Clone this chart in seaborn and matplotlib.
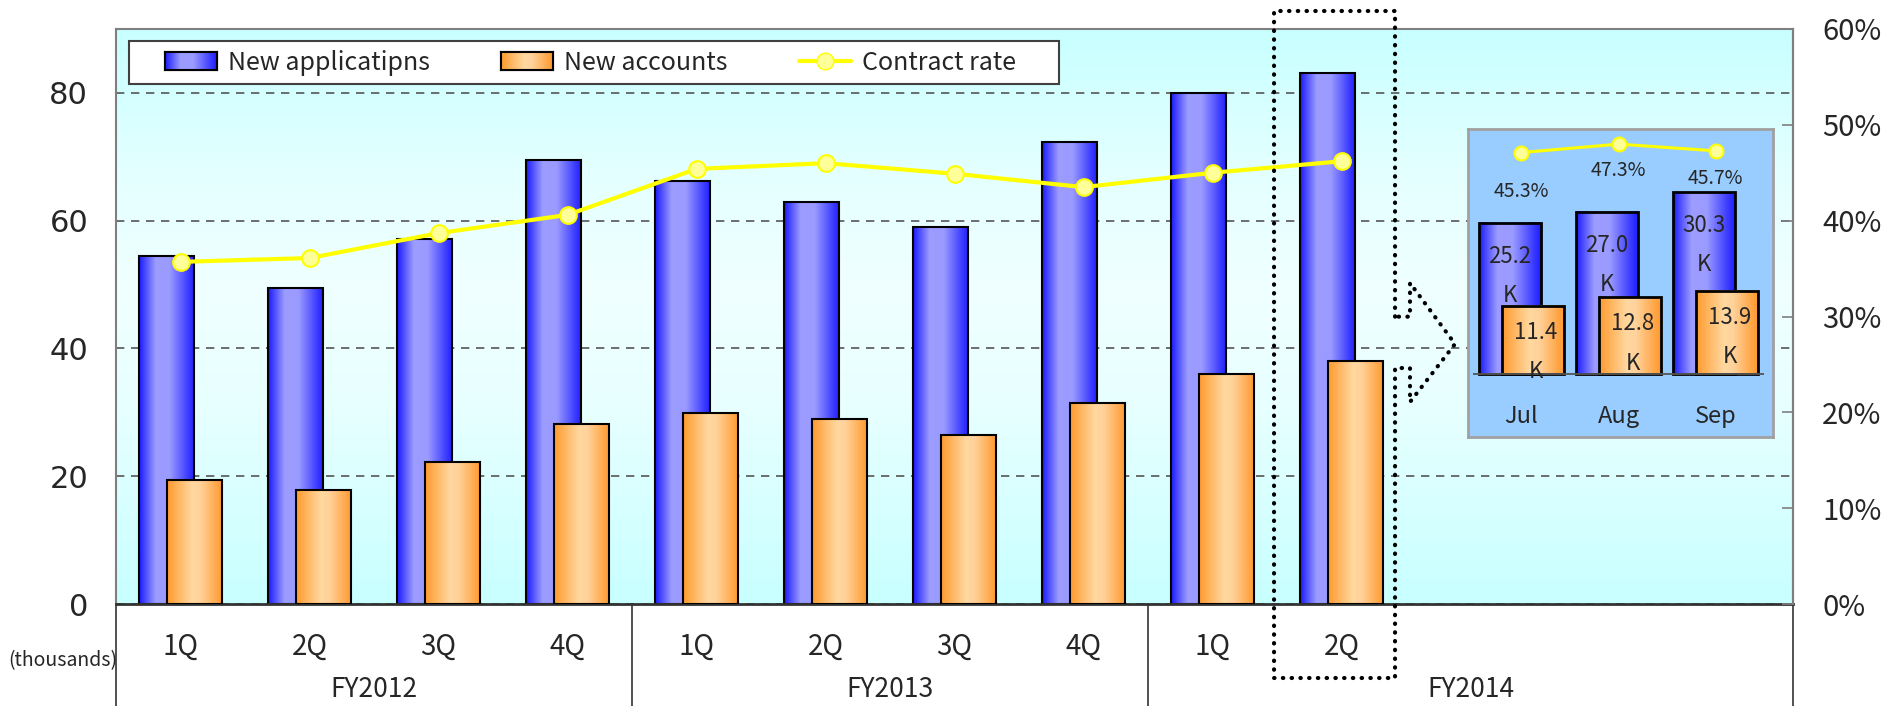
import numpy as np
import pandas as pd
import matplotlib
matplotlib.use("Agg")
import matplotlib.pyplot as plt
import matplotlib.transforms as mtransforms
from matplotlib.colors import LinearSegmentedColormap
from matplotlib.lines import Line2D
from matplotlib.patches import Patch, Rectangle
import seaborn as sns

# ---------------- data ----------------
fiscal_years = ["FY2012", "FY2013", "FY2014"]
fy_slots = [4, 4, 5]                      # FY2014 keeps room for the monthly panel
quarters = ["1Q", "2Q", "3Q", "4Q", "1Q", "2Q", "3Q", "4Q", "1Q", "2Q"]
quarter_fy = ["FY2012"] * 4 + ["FY2013"] * 4 + ["FY2014"] * 2
new_applications = [54.5, 49.5, 57.2, 69.5, 66.2, 63.0, 59.0, 72.3, 80.0, 83.1]
new_accounts = [19.4, 17.9, 22.2, 28.2, 29.9, 29.0, 26.5, 31.4, 36.0, 38.0]
contract_rate = [35.7, 36.1, 38.7, 40.6, 45.4, 46.0, 44.9, 43.5, 45.0, 46.2]

months = ["Jul", "Aug", "Sep"]
month_applications = [25.2, 27.0, 30.3]
month_accounts = [11.4, 12.8, 13.9]
month_rate = [45.3, 47.3, 45.7]

legend_labels = ["New applicatipns", "New accounts", "Contract rate"]

# ---------------- style ----------------
sns.set_style("white")
NARROW = ["Liberation Sans Narrow", "Noto Sans CJK JP", "DejaVu Sans"]
plt.rcParams["font.family"] = NARROW

W, H = 1888, 706
fig = plt.figure(figsize=(W / 100, H / 100), dpi=100, facecolor="white")

blue_cmap = LinearSegmentedColormap.from_list(
    "app", [(0, "#1a1aff"), (0.3, "#9d9dff"), (0.55, "#9a9aff"), (0.88, "#3c3cff"), (1, "#1e1eff")])
orange_cmap = LinearSegmentedColormap.from_list(
    "acc", [(0, "#ff9a2e"), (0.45, "#ffd8a0"), (0.6, "#ffd29a"), (1, "#ff982c")])
bg_cmap = LinearSegmentedColormap.from_list(
    "bg", [(0, "#c8ffff"), (0.35, "#e8ffff"), (0.55, "#f0ffff"), (0.75, "#e4ffff"), (1, "#c8ffff")])
hgrad = np.linspace(0, 1, 256).reshape(1, -1)
vgrad = np.linspace(0, 1, 256).reshape(-1, 1)


def gradient_bars(ax, patches, cmap, z):
    for p in patches:
        x0, y0, w, h = p.get_x(), p.get_y(), p.get_width(), p.get_height()
        ax.imshow(hgrad, extent=[x0, x0 + w, y0, y0 + h], cmap=cmap,
                  aspect="auto", zorder=z - 0.05, interpolation="bilinear")
        p.set_facecolor("none")
        p.set_zorder(z)


def paired_bars(ax, data, key, v1, v2, width, shift, lw):
    n0 = len(ax.patches)
    sns.barplot(data=data, x=key, y=v1, width=width, ax=ax, color="#6666ff",
                edgecolor="black", linewidth=lw, saturation=1, errorbar=None)
    first = ax.patches[n0:]
    n1 = len(ax.patches)
    sns.barplot(data=data, x=key, y=v2, width=width, ax=ax, color="#ffbb66",
                edgecolor="black", linewidth=lw, saturation=1, errorbar=None)
    second = ax.patches[n1:]
    for p in first:
        p.set_x(p.get_x() - shift)
    for p in second:
        p.set_x(p.get_x() + shift)
    gradient_bars(ax, first, blue_cmap, 2)
    gradient_bars(ax, second, orange_cmap, 3)
    return first, second


# ---------------- main chart ----------------
df = pd.DataFrame({
    "key": [f"{f} {q}" for f, q in zip(quarter_fy, quarters)],
    "applications": new_applications,
    "accounts": new_accounts,
    "rate": contract_rate,
})
n_slots = sum(fy_slots)

ax = fig.add_axes([116 / W, 1 - 604 / H, 1677 / W, 575 / H])
ax.imshow(vgrad, extent=[0, 1, 0, 1], transform=ax.transAxes, cmap=bg_cmap,
          aspect="auto", origin="lower", zorder=0, interpolation="bilinear")

paired_bars(ax, df, "key", "applications", "accounts", 0.434, 0.1085, 1.5)

ax.set_xlim(-0.5, n_slots - 0.5)
ax.set_ylim(0, 90)
ax.set_yticks([0, 20, 40, 60, 80])
ax.set_yticklabels([str(v) for v in [0, 20, 40, 60, 80]], family="DejaVu Sans", fontsize=22)
ax.tick_params(axis="y", length=0, pad=20)
ax.yaxis.grid(True, linestyle=(0, (5, 4)), color="#555555", linewidth=1.2)
ax.set_axisbelow(True)
ax.set_xticks(range(len(quarters)))
ax.set_xticklabels(quarters, fontsize=20)
ax.tick_params(axis="x", length=0, pad=20)
ax.set_xlabel("")
ax.set_ylabel("")
for s in ["left", "top", "right"]:
    ax.spines[s].set_color("#7f7f7f")
    ax.spines[s].set_linewidth(1.5)
ax.spines["bottom"].set_color("#333333")
ax.spines["bottom"].set_linewidth(2)

# fiscal-year groups under the quarter labels
blend = mtransforms.blended_transform_factory(ax.transData, ax.transAxes)
bounds = np.concatenate([[0], np.cumsum(fy_slots)]) - 0.5
for b in bounds:
    ax.add_line(Line2D([b, b], [0, -0.2], transform=blend, color="#333333",
                       linewidth=1.2, clip_on=False))
for fy, lo, n in zip(fiscal_years, bounds[:-1], fy_slots):
    centre = lo + n / 2
    ax.text(centre, -0.149, fy, transform=blend, ha="center", va="center", fontsize=19)

fig.text(63 / W, 1 - 661 / H, "(thousands)", ha="center", va="center", fontsize=14)

# contract rate on the secondary axis
ax2 = ax.twinx()
sns.lineplot(x=np.arange(len(contract_rate)), y=contract_rate, ax=ax2, color="#ffff00",
             linewidth=3, marker="o", markersize=12, markerfacecolor="#ffff99",
             markeredgecolor="#ffff00", markeredgewidth=1.5, zorder=5)
ax2.set_ylim(0, 60)
ax2.set_yticks(range(0, 61, 10))
ax2.set_yticklabels([f"{v}%" for v in range(0, 61, 10)], fontsize=21)
ax2.tick_params(axis="y", direction="in", length=8, width=1.2, color="#7f7f7f", pad=21)
for s in ["left", "top", "bottom"]:
    ax2.spines[s].set_visible(False)
ax2.spines["right"].set_color("#7f7f7f")
ax2.spines["right"].set_linewidth(1.5)
ax2.set_ylabel("")

# legend: frame drawn separately so the side margins can differ
ax2.add_patch(Rectangle((129 / W, 1 - 84 / H), 930 / W, 43 / H, transform=fig.transFigure,
                        facecolor="white", edgecolor="#404040", linewidth=1.5,
                        clip_on=False, zorder=9))
handles = [Patch(facecolor="#6666ff", edgecolor="black", linewidth=1.5),
           Patch(facecolor="#ffbb66", edgecolor="black", linewidth=1.5),
           Line2D([], [], color="#ffff00", linewidth=3, marker="o", markersize=12,
                  markerfacecolor="#ffff99", markeredgecolor="#ffff00")]
leg = ax2.legend(handles, legend_labels, ncol=3, loc="center left",
                 bbox_to_anchor=((165 - 116) / 1677, (604 - 62.5) / 575),
                 frameon=False, fontsize=18, handlelength=2.08, handleheight=0.75,
                 handletextpad=0.44, columnspacing=2.85, borderpad=0, borderaxespad=0)
leg.set_zorder(10)

# dotted outline around the latest quarter with an arrow towards the monthly panel
hl = len(quarters) - 1
outline_x = [0.415, 0.415, -0.523, -0.523, 0.415, 0.415, 0.531, 0.531, 0.880, 0.531, 0.531, 0.415]
outline_y = [0.4997, 1.0313, 1.0313, -0.1287, -0.1287, 0.4104, 0.4104, 0.3513, 0.4522,
             0.5583, 0.4997, 0.4997]
ax2.add_line(Line2D([hl + v for v in outline_x], outline_y, transform=blend, color="black",
                    linewidth=3, linestyle=(0, (0.1, 2)), dash_capstyle="round",
                    solid_capstyle="round", clip_on=False, zorder=6))

# ---------------- monthly panel ----------------
mdf = pd.DataFrame({"month": months, "applications": month_applications,
                    "accounts": month_accounts, "rate": month_rate})
axi = fig.add_axes([1468 / W, 1 - 437 / H, 305 / W, 308 / H], zorder=8)
axi.set_facecolor("#99ccff")
first, second = paired_bars(axi, mdf, "month", "applications", "accounts", 0.637, 0.118, 2)
axi.set_xlim(-0.55, 2.59)
axi.set_ylim(-10.5, 40.8)
axi.hlines(0, -0.5, 2.5, color="#555555", linewidth=1.3, zorder=4)
axi.set_xticks([])
axi.set_yticks([])
axi.set_xlabel("")
axi.set_ylabel("")
for s in axi.spines.values():
    s.set_color("#a0a0a0")
    s.set_linewidth(2)
iblend = mtransforms.blended_transform_factory(axi.transData, axi.transAxes)
for i, m in enumerate(months):
    axi.text(i, 0.068, m, transform=iblend, ha="center", va="center", fontsize=17)
for p, v in zip(first, month_applications):
    axi.annotate(f"{v:.1f}\nK", (p.get_x() + p.get_width() / 2, p.get_height()),
                 xytext=(0, -16), textcoords="offset points", ha="center", va="top",
                 fontsize=16, linespacing=1.9, zorder=6)
for p, v in zip(second, month_accounts):
    axi.annotate(f"{v:.1f}\nK", (p.get_x() + p.get_width() / 2, p.get_height()),
                 xytext=(2, -11), textcoords="offset points", ha="center", va="top",
                 fontsize=16, linespacing=1.9, zorder=6)

axi2 = axi.twinx()
sns.lineplot(x=np.arange(len(month_rate)), y=month_rate, ax=axi2, color="#ffff00",
             linewidth=2.2, marker="o", markersize=10, markerfacecolor="#ffff99",
             markeredgecolor="#ffff00", markeredgewidth=1.5)
axi2.set_ylim(-22.4, 50.9)
axi2.set_yticks([])
axi2.set_ylabel("")
for s in axi2.spines.values():
    s.set_visible(False)
label_drop = [28, 19, 20]
for i, (v, d) in enumerate(zip(month_rate, label_drop)):
    axi2.annotate(f"{v}%", (i, v), xytext=(0, -d), textcoords="offset points",
                  ha="center", va="center", fontsize=14)

# gradient swatches inside the legend
fig.canvas.draw()
for patch, cmap in zip(leg.get_patches(), [blue_cmap, orange_cmap]):
    bb = patch.get_window_extent()
    sw = fig.add_axes([bb.x0 / W, bb.y0 / H, bb.width / W, bb.height / H], zorder=12)
    sw.imshow(hgrad, cmap=cmap, aspect="auto", interpolation="bilinear")
    sw.set_xticks([])
    sw.set_yticks([])
    for s in sw.spines.values():
        s.set_color("black")
        s.set_linewidth(1.5)

fig.savefig("out.png", dpi=100, facecolor="white")
